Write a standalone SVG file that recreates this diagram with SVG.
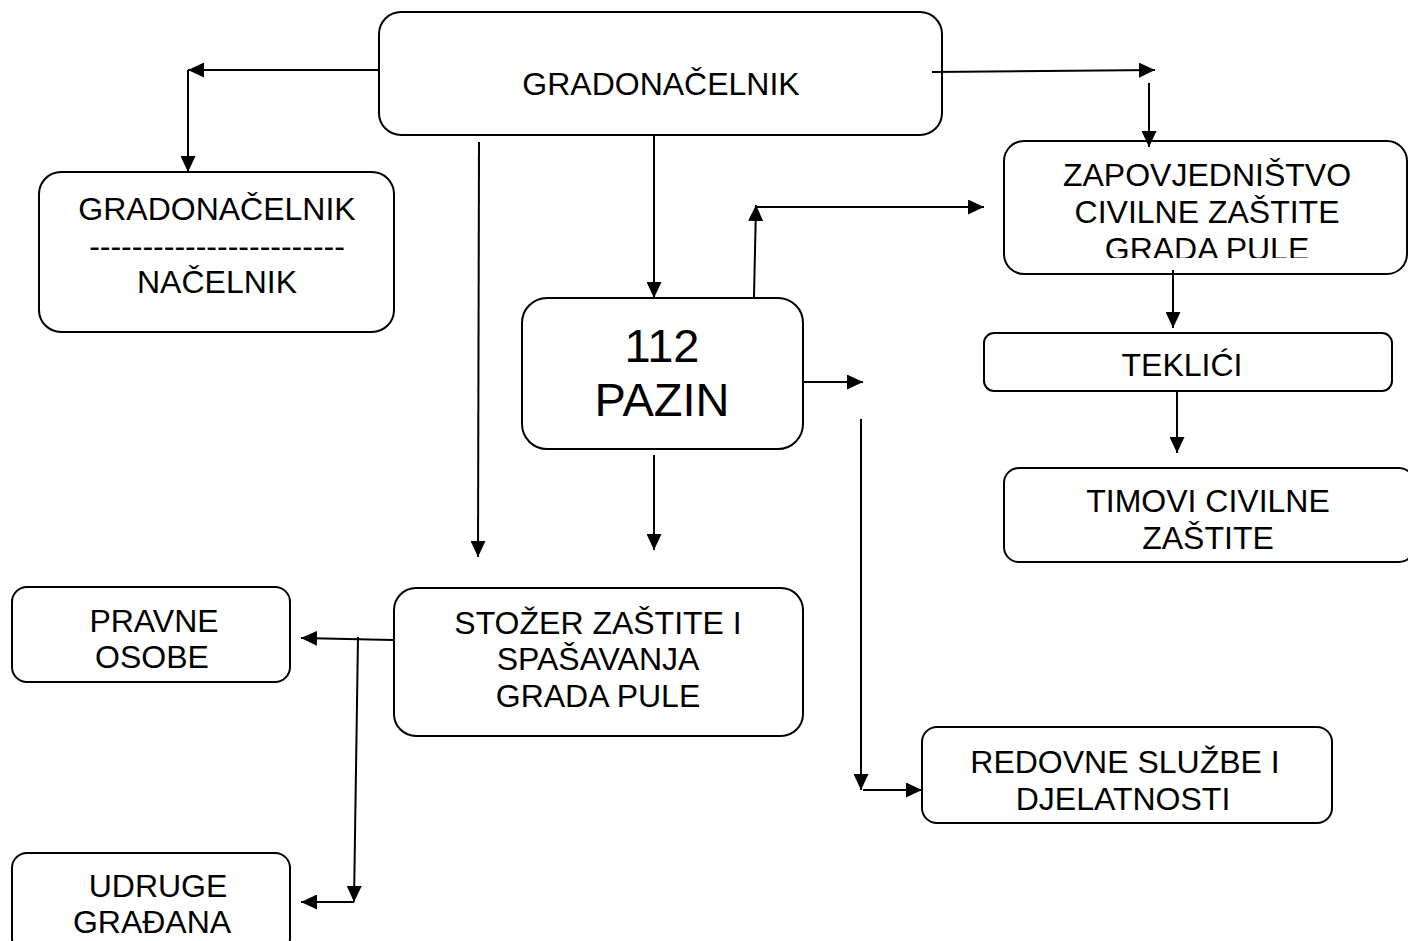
<svg xmlns="http://www.w3.org/2000/svg" width="1408" height="941" viewBox="0 0 1408 941">
<style>
.box{fill:#fff;stroke:#000;stroke-width:2}
.t{font-family:"Liberation Sans",Arial,sans-serif;font-size:32px;fill:#000;text-anchor:middle}
.big{font-size:47px}
.c line{stroke:#000;stroke-width:2;fill:none}
.a{marker-end:url(#arr)}
</style>
<defs>
<marker id="arr" markerUnits="userSpaceOnUse" markerWidth="16" markerHeight="15" refX="16" refY="7.5" orient="auto" viewBox="0 0 16 15">
<path d="M0,0 L16,7.5 L0,15 z" fill="#000"/>
</marker>
<clipPath id="clipZ"><rect x="1000" y="140" width="408" height="118"/></clipPath>
</defs>
<rect width="1408" height="941" fill="#fff"/>
<g id="gradonacelnik">
<rect class="box" x="379" y="12" width="563" height="123" rx="22"/>
<text class="t" x="661" y="95">GRADONAČELNIK</text>
</g>
<g id="gradonacelnik-nacelnik">
<rect class="box" x="39" y="172" width="355" height="160" rx="22"/>
<text class="t" x="217" y="220">GRADONAČELNIK</text>
<text class="t" x="217" y="257">------------------------</text>
<text class="t" x="217" y="293">NAČELNIK</text>
</g>
<g id="zapovjednistvo">
<rect class="box" x="1004" y="141" width="403" height="133" rx="20"/>
<g clip-path="url(#clipZ)">
<text class="t" x="1207" y="186">ZAPOVJEDNIŠTVO</text>
<text class="t" x="1207" y="223">CIVILNE ZAŠTITE</text>
<text class="t" x="1207" y="260">GRADA PULE</text>
</g>
</g>
<g id="pazin">
<rect class="box" x="522" y="298" width="281" height="151" rx="25"/>
<text class="t big" x="662" y="362">112</text>
<text class="t big" x="662" y="416">PAZIN</text>
</g>
<g id="teklici">
<rect class="box" x="984" y="333" width="408" height="58" rx="10"/>
<text class="t" x="1182" y="376">TEKLIĆI</text>
</g>
<g id="timovi">
<rect class="box" x="1004" y="468" width="410" height="94" rx="15"/>
<text class="t" x="1208" y="512">TIMOVI CIVILNE</text>
<text class="t" x="1208" y="549">ZAŠTITE</text>
</g>
<g id="stozer">
<rect class="box" x="394" y="588" width="409" height="148" rx="22"/>
<text class="t" x="598" y="634">STOŽER ZAŠTITE I</text>
<text class="t" x="598" y="670">SPAŠAVANJA</text>
<text class="t" x="598" y="707">GRADA PULE</text>
</g>
<g id="pravne">
<rect class="box" x="12" y="587" width="278" height="95" rx="15"/>
<text class="t" x="154" y="632">PRAVNE</text>
<text class="t" x="152" y="668">OSOBE</text>
</g>
<g id="udruge">
<rect class="box" x="12" y="853" width="278" height="100" rx="15"/>
<text class="t" x="158" y="897">UDRUGE</text>
<text class="t" x="152" y="933">GRAĐANA</text>
</g>
<g id="redovne">
<rect class="box" x="922" y="727" width="410" height="96" rx="15"/>
<text class="t" x="1125" y="773">REDOVNE SLUŽBE I</text>
<text class="t" x="1123" y="810">DJELATNOSTI</text>
</g>
<g class="c" id="connectors">
<line class="a" x1="378" y1="70" x2="188" y2="70"/>
<line class="a" x1="188" y1="70" x2="188" y2="172"/>
<line class="a" x1="932" y1="72" x2="1155" y2="70"/>
<line class="a" x1="1149" y1="83" x2="1149" y2="147"/>
<line class="a" x1="654" y1="136" x2="654" y2="298"/>
<line class="a" x1="479" y1="142" x2="478" y2="557"/>
<line class="a" x1="654" y1="455" x2="654" y2="550"/>
<line class="a" x1="754" y1="297" x2="756" y2="205"/>
<line class="a" x1="756" y1="207" x2="984" y2="207"/>
<line class="a" x1="803" y1="382" x2="863" y2="382"/>
<line class="a" x1="861" y1="419" x2="861" y2="790"/>
<line class="a" x1="863" y1="790" x2="922" y2="790"/>
<line class="a" x1="1173" y1="270" x2="1173" y2="328"/>
<line class="a" x1="1177" y1="391" x2="1177" y2="453"/>
<line class="a" x1="393" y1="640" x2="301" y2="638"/>
<line class="a" x1="358" y1="637" x2="354" y2="902"/>
<line class="a" x1="354" y1="902" x2="301" y2="902"/>
</g>
</svg>
